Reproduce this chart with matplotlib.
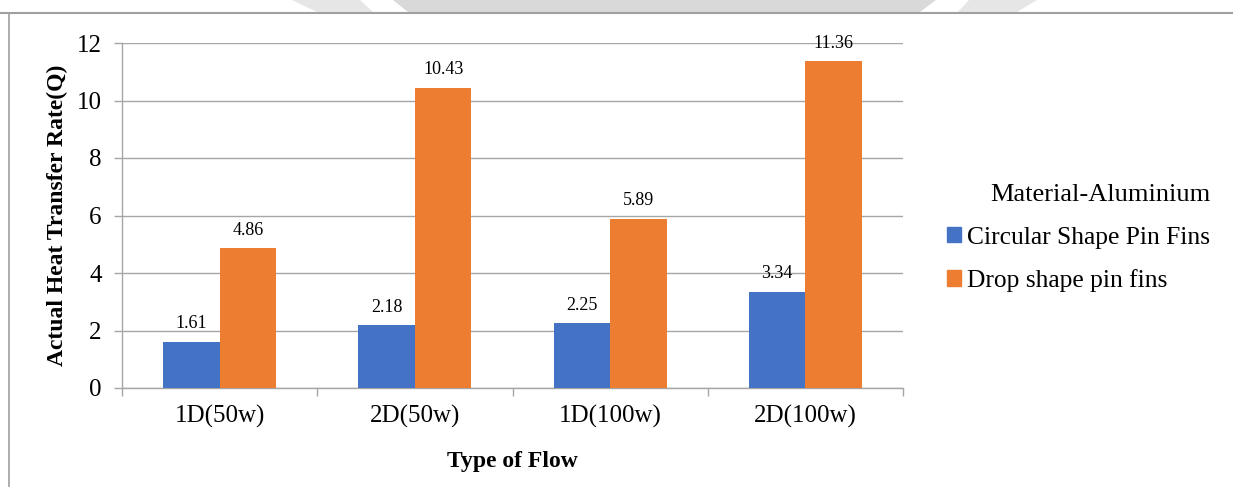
import numpy as np
import matplotlib
matplotlib.use("Agg")
import matplotlib.pyplot as plt
from matplotlib.patches import Patch, Polygon
from matplotlib.lines import Line2D

plt.rcParams['font.family'] = ['Liberation Serif', 'DejaVu Serif']

# data
flow_types = ['1D(50w)', '2D(50w)', '1D(100w)', '2D(100w)']
circular = [1.61, 2.18, 2.25, 3.34]
drop = [4.86, 10.43, 5.89, 11.36]
series_names = ['Circular Shape Pin Fins', 'Drop shape pin fins']
legend_title = 'Material-Aluminium'

blue = '#4472C4'
orange = '#ED7D31'
grid_col = '#a6a6a6'

fig = plt.figure(figsize=(12.33, 4.87), dpi=100)
ax = fig.add_axes([122/1233, 1-388/487, (903-122)/1233, (388-43)/487])

x = np.arange(len(flow_types))
w = 0.29
b1 = ax.bar(x - w/2, circular, w, color=blue, label=series_names[0], zorder=3)
b2 = ax.bar(x + w/2, drop, w, color=orange, label=series_names[1], zorder=3)

for bars, vals in [(b1, circular), (b2, drop)]:
    for r, v in zip(bars, vals):
        ax.annotate('%.2f' % v, (r.get_x() + r.get_width()/2, v),
                    xytext=(0, 7), textcoords='offset points',
                    ha='center', va='bottom', fontsize=13)

ax.set_xlim(-0.5, len(flow_types) - 0.5)
ax.set_ylim(0, 12)
ax.set_yticks(np.arange(0, 13, 2))
ax.yaxis.grid(True, color=grid_col, linewidth=1.0, zorder=0)
ax.set_axisbelow(True)

ax.set_xticks(x)
ax.set_xticklabels(flow_types, fontsize=18)
ax.set_xticks(np.arange(-0.5, len(flow_types)), minor=True)
ax.tick_params(axis='x', which='major', length=0, pad=12)
ax.tick_params(axis='x', which='minor', length=6, color=grid_col, width=1)
ax.tick_params(axis='y', labelsize=18, length=6, color=grid_col, width=1, pad=8.5)

for s in ['top', 'right']:
    ax.spines[s].set_visible(False)
for s in ['left', 'bottom']:
    ax.spines[s].set_color(grid_col)
    ax.spines[s].set_linewidth(1.0)

ax.set_xlabel('Type of Flow', fontsize=17, fontweight='bold', labelpad=17)
ax.set_ylabel('Actual Heat Transfer Rate(Q)', fontsize=17, fontweight='bold', labelpad=6)

handles = [Patch(color=blue), Patch(color=orange)]
leg = fig.legend(handles, series_names, title=legend_title, loc='center left',
                 bbox_to_anchor=(934/1233, 1-238/487), frameon=False,
                 fontsize=18.4, title_fontsize=19, handlelength=0.55, handleheight=0.55,
                 handletextpad=0.25, labelspacing=0.8, borderpad=0)
leg._legend_box.align = 'right'

# page decorations: border lines and faint header shapes
fig.add_artist(Line2D([0, 1], [1-12.5/487]*2, color='#a0a0a0', linewidth=1.5,
                      transform=fig.transFigure))
fig.add_artist(Line2D([8.5/1233]*2, [0, 1-12.5/487], color='#a0a0a0', linewidth=1.2,
                      transform=fig.transFigure))
shapes = [([(292, 0), (360, 0), (373, 12), (317, 12)], '#e6e6e6'),
          ([(393, 0), (936, 0), (920, 12), (408, 12)], '#d9d9d9'),
          ([(969, 0), (1037, 0), (1017, 12), (958, 12)], '#e6e6e6')]
for pts, c in shapes:
    fig.add_artist(Polygon([(px/1233, 1-py/487) for px, py in pts], closed=True,
                           facecolor=c, edgecolor='none', transform=fig.transFigure))

fig.savefig('out.png', dpi=100)
